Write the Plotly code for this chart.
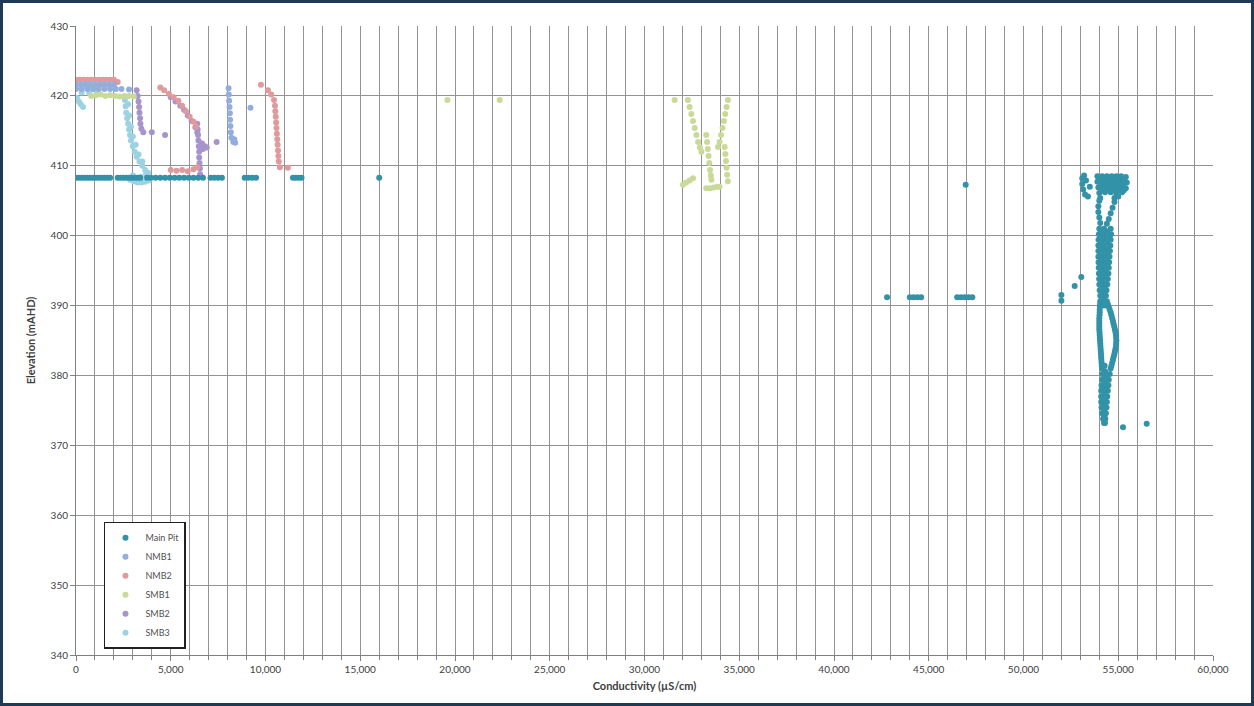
import plotly.graph_objects as go

# ---- Conductivity (uS/cm) vs elevation (mAHD) for each monitoring location ----

main_pit_cond = [
    # near-surface readings at ~408 mAHD
    0, 150, 300, 450, 600, 750, 900, 1050, 1200, 1350, 1500, 1650, 1800,
    2200, 2350, 2500, 2650, 2800, 2950, 3100, 3250, 3400,
    3750, 3950, 4200, 4450, 4700, 4950, 5200, 5450, 5700, 5950, 6200, 6450, 6700,
    7100, 7300, 7500, 7700, 8900, 9100, 9300, 9500, 11450, 11600, 11750, 11900, 16000,
    # profile head
    53100, 53100, 53150, 53250, 53400, 53300, 53500, 53200,
    53900, 54150, 54400, 54650, 54900, 55150, 55400,
    53900, 54200, 54500, 54800, 55100, 55450,
    53950, 54250, 54550, 54850, 55150, 55400,
    54000, 54300, 54600, 54900, 55200,
    54050, 54800, 55000,
    54050, 54300, 54550, 54800, 55050, 55300,
    54100, 54350, 54650, 54950, 55250,
    54150, 54450, 54700, 55000, 55300,
    # loop
    54000, 53950, 53950, 54000, 54050,
    54800, 54700, 54600, 54500, 54400,
    # main column
    54000, 53980, 53960, 53950, 53950, 53950, 53960, 53970, 53980, 53990, 54000, 54020, 54050,
    54250, 54230, 54220, 54200, 54200, 54200, 54210, 54220, 54230, 54220, 54210, 54200, 54200,
    54600, 54620, 54600, 54580, 54560, 54540, 54520, 54500, 54480, 54450, 54420, 54380, 54350,
    54100, 54090, 54080, 54070, 54070, 54080, 54090, 54100, 54110, 54110, 54120, 54130,
    54420, 54430, 54410, 54390, 54380, 54370, 54360, 54350, 54340, 54320, 54300, 54280,
    # bulge
    54050, 54030, 54020, 54000, 54000, 54000, 54020, 54040, 54060, 54080, 54100, 54120, 54150,
    54400, 54500, 54600, 54680, 54750, 54820, 54880, 54900, 54880, 54820, 54750, 54680, 54600,
    54040, 54020, 54010, 54000, 54000, 54010, 54030, 54050, 54070, 54090, 54110, 54130,
    54450, 54550, 54640, 54720, 54790, 54850, 54890, 54890, 54850, 54790, 54720, 54640,
    54220, 54250, 54280, 54300,
    # lower column
    54150, 54150, 54120, 54100, 54100, 54100, 54120, 54150, 54200, 54250,
    54550, 54500, 54480, 54450, 54420, 54400, 54380, 54350, 54320, 54300,
    54350, 54320, 54300, 54280, 54260, 54250, 54250, 54250, 54260,
    # scattered deep / outlying readings
    55250, 56500, 52000, 52000, 52700, 53050, 46950,
    42800, 44000, 44200, 44400, 44600, 46500, 46700, 46900, 47100, 47300,
]
main_pit_elev = [
    408.3, 408.3, 408.3, 408.3, 408.3, 408.3, 408.3, 408.3, 408.3, 408.3, 408.3, 408.3, 408.3,
    408.3, 408.3, 408.3, 408.3, 408.3, 408.3, 408.3, 408.3, 408.3,
    408.3, 408.3, 408.3, 408.3, 408.3, 408.3, 408.3, 408.3, 408.3, 408.3, 408.3, 408.3, 408.3,
    408.3, 408.3, 408.3, 408.3, 408.3, 408.3, 408.3, 408.3, 408.3, 408.3, 408.3, 408.3, 408.3,
    408.2, 407.4, 406.6, 405.9, 405.6, 407.9, 407.0, 408.6,
    408.5, 408.5, 408.5, 408.5, 408.5, 408.5, 408.4,
    407.7, 407.7, 407.7, 407.7, 407.7, 407.6,
    406.9, 406.9, 406.9, 406.9, 406.9, 406.8,
    406.1, 406.2, 406.2, 406.0, 406.2,
    405.4, 405.4, 405.6,
    408.1, 408.1, 408.1, 408.1, 408.1, 408.1,
    407.3, 407.3, 407.3, 407.3, 407.3,
    406.5, 406.5, 406.5, 406.5, 406.5,
    405.0, 404.2, 403.4, 402.6, 401.8,
    404.8, 404.0, 403.2, 402.4, 401.7,
    401.0, 400.2, 399.4, 398.6, 397.8, 397.0, 396.2, 395.4, 394.6, 393.8, 393.0, 392.2, 391.4,
    401.0, 400.2, 399.4, 398.6, 397.8, 397.0, 396.2, 395.4, 394.6, 393.8, 393.0, 392.2, 391.4,
    401.0, 400.2, 399.4, 398.6, 397.8, 397.0, 396.2, 395.4, 394.6, 393.8, 393.0, 392.2, 391.4,
    400.6, 399.8, 399.0, 398.2, 397.4, 396.6, 395.8, 395.0, 394.2, 393.4, 392.6, 391.8,
    400.6, 399.8, 399.0, 398.2, 397.4, 396.6, 395.8, 395.0, 394.2, 393.4, 392.6, 391.8,
    390.6, 389.8, 389.0, 388.2, 387.4, 386.6, 385.8, 385.0, 384.2, 383.4, 382.6, 381.8, 381.0,
    390.6, 389.8, 389.0, 388.2, 387.4, 386.6, 385.8, 385.0, 384.2, 383.4, 382.6, 381.8, 381.0,
    390.2, 389.4, 388.6, 387.8, 387.0, 386.2, 385.4, 384.6, 383.8, 383.0, 382.2, 381.4,
    390.2, 389.4, 388.6, 387.8, 387.0, 386.2, 385.4, 384.6, 383.8, 383.0, 382.2, 381.4,
    390.8, 390.0, 381.4, 380.6,
    380.2, 379.4, 378.6, 377.8, 377.0, 376.2, 375.4, 374.6, 373.8, 373.2,
    380.2, 379.4, 378.6, 377.8, 377.0, 376.2, 375.4, 374.6, 373.8, 373.2,
    379.8, 379.0, 378.2, 377.4, 376.6, 375.8, 375.0, 374.2, 373.5,
    372.6, 373.1, 391.5, 390.7, 392.8, 394.1, 407.3,
    391.2, 391.2, 391.2, 391.2, 391.2, 391.2, 391.2, 391.2, 391.2, 391.2,
]

nmb1_cond = [
    0, 250, 500, 750, 1000, 1250, 1500, 1750, 2000,
    0, 300, 600, 900, 1200, 1500, 1800, 2100, 2400, 2800,
    8050, 8060, 8080, 8100, 8120, 8130, 8150, 8170, 8200, 8300, 8400, 8350, 9210,
]
nmb1_elev = [
    421.6, 421.6, 421.6, 421.6, 421.6, 421.6, 421.6, 421.6, 421.6,
    421.0, 421.0, 421.0, 421.0, 421.0, 421.0, 421.0, 421.0, 421.0, 420.9,
    421.1, 420.2, 419.3, 418.4, 417.5, 416.6, 415.7, 414.8, 414.0, 413.4, 413.3, 413.8, 418.3,
]

nmb2_cond = [
    0, 200, 400, 600, 800, 1000, 1200, 1400, 1600, 1800, 2000, 2200,
    4450, 4650, 4900, 5150, 5400, 5600, 5800, 6000, 6200, 6350,
    5000, 5300, 5600, 5900, 6200, 6400,
    9760, 10130, 10300, 10450, 10500, 10520, 10540, 10560, 10580, 10600,
    10620, 10640, 10660, 10680, 10700, 10760, 11180,
]
nmb2_elev = [
    422.3, 422.3, 422.3, 422.3, 422.3, 422.3, 422.3, 422.3, 422.3, 422.3, 422.3, 422.0,
    421.2, 420.8, 420.3, 419.8, 419.3, 418.6, 417.8, 417.0, 416.3, 415.6,
    409.4, 409.3, 409.4, 409.2, 409.5, 409.8,
    421.6, 420.8, 420.2, 419.4, 418.6, 417.8, 417.0, 416.2, 415.4, 414.6,
    413.8, 413.0, 412.2, 411.4, 410.6, 409.8, 409.7,
]

smb1_cond = [
    800, 1050, 1300, 1550, 1800, 2050, 2300, 2550, 2800, 3050,
    19600, 22360, 31590,
    32290, 32380, 32470, 32560, 32650, 32740, 32830, 32920, 33000,
    33260, 33300, 33340, 33380, 33420, 33460, 33500, 33530,
    34400, 34330, 34260, 34190, 34120, 34040, 33960, 33880,
    34230, 34270, 34300, 34330, 34360, 34400,
    32030, 32200, 32380, 32560,
    33260, 33450, 33650, 33850, 33960,
]
smb1_elev = [
    420.0, 420.1, 420.2, 420.0, 420.1, 420.0, 419.9, 420.0, 420.0, 419.9,
    419.4, 419.4, 419.4,
    419.4, 418.4, 417.4, 416.4, 415.4, 414.4, 413.4, 412.6, 412.0,
    414.4, 413.4, 412.4, 411.4, 410.4, 409.4, 408.6, 408.0,
    419.4, 418.4, 417.4, 416.4, 415.4, 414.4, 413.4, 412.7,
    412.7, 411.7, 410.7, 409.7, 408.7, 407.8,
    407.3, 407.6, 407.9, 408.2,
    406.8, 406.8, 406.9, 407.0, 407.0,
]

smb2_cond = [
    3200, 3250, 3300, 3330, 3350, 3380, 3400, 3450, 3550,
    5000, 5250, 5500, 5700, 5900, 6100, 6300, 6400,
    6400, 6420, 6440, 6460, 6480, 6500, 6500, 6520, 6540, 6550,
    6650, 6800, 6900, 6700,
    4000, 4700, 7420,
]
smb2_elev = [
    420.8, 420.0, 419.2, 418.4, 417.6, 416.8, 416.0, 415.3, 414.8,
    419.8, 419.2, 418.6, 418.0, 417.2, 416.4, 415.5, 414.8,
    416.0, 415.2, 414.4, 413.6, 412.8, 412.0, 411.2, 410.4, 409.6, 408.8,
    413.2, 412.8, 412.6, 412.4,
    414.8, 414.4, 413.4,
]

smb3_cond = [
    50, 150, 250, 370, 300, 700, 1100,
    2580, 2620, 2650, 2700, 2750, 2800, 2850, 2900, 3000, 3100, 3200, 3350, 3500, 3650, 3800,
    2750, 2800, 2900, 3000, 3150, 3300, 3500,
    2850, 3050, 3250, 3450, 3650, 3850, 3000, 3400, 3700,
]
smb3_elev = [
    419.7, 419.2, 418.8, 418.4, 420.5, 420.4, 420.5,
    419.4, 418.5, 417.6, 416.8, 416.0, 415.2, 414.4, 413.6, 412.8, 412.0, 411.3, 410.6, 410.0, 409.4, 409.0,
    418.8, 417.2, 415.6, 414.2, 413.0, 411.6, 410.6,
    408.0, 407.8, 407.6, 407.6, 407.7, 407.9, 408.6, 408.4, 408.8,
]

series_names = ["Main Pit", "NMB1", "NMB2", "SMB1", "SMB2", "SMB3"]
series_x = [main_pit_cond, nmb1_cond, nmb2_cond, smb1_cond, smb2_cond, smb3_cond]
series_y = [main_pit_elev, nmb1_elev, nmb2_elev, smb1_elev, smb2_elev, smb3_elev]
series_colors = ["#3192A8", "#93AEDC", "#E09A9C", "#C9DA98", "#A894CC", "#9CD3E2"]

x_ticks = list(range(0, 60001, 5000))
x_tick_text = [f"{v:,}" for v in x_ticks]
y_ticks = list(range(340, 431, 10))

fig = go.Figure()

# later series sit underneath earlier ones, so draw them in reverse order
for name, xs, ys, col in reversed(list(zip(series_names, series_x, series_y, series_colors))):
    fig.add_trace(go.Scatter(
        x=xs, y=ys, mode="markers", name=name,
        marker=dict(size=6, color=col, line=dict(width=0)),
    ))

grid_col = "#939393"
font_family = "Lato, Liberation Sans, sans-serif"
tick_font = dict(family=font_family, size=10, color="#404040")
title_font = dict(family=font_family, size=11, color="#404040")

fig.update_layout(
    width=1254, height=706,
    paper_bgcolor="white", plot_bgcolor="white",
    margin=dict(l=76, r=41, t=26, b=51),
    showlegend=True,
    legend=dict(
        traceorder="reversed",
        x=0.0246, y=0.01, xanchor="left", yanchor="bottom",
        bgcolor="white", bordercolor="#202020", borderwidth=1.5,
        font=dict(family=font_family, size=9, color="#505050"),
        itemwidth=30,
    ),
    xaxis=dict(
        range=[0, 60000], tickvals=x_ticks, ticktext=x_tick_text,
        showgrid=True, gridcolor=grid_col, gridwidth=1,
        minor=dict(dtick=1000, showgrid=True, gridcolor=grid_col, gridwidth=1,
                   ticks="outside", ticklen=4, tickcolor="#808080"),
        ticks="outside", ticklen=5, tickcolor="#808080",
        showline=True, linecolor="#808080", linewidth=1,
        zeroline=False, tickfont=tick_font,
        title=dict(text="<b>Conductivity (µS/cm)</b>", standoff=8, font=title_font),
    ),
    yaxis=dict(
        range=[340, 430], tickvals=y_ticks,
        showgrid=True, gridcolor=grid_col, gridwidth=1,
        ticks="outside", ticklen=5, tickcolor="#808080",
        showline=True, linecolor="#808080", linewidth=1,
        zeroline=False, tickfont=tick_font,
        title=dict(text="<b>Elevation (mAHD)</b>", standoff=12, font=title_font),
    ),
)

# outer frame around the whole chart
pw, ph = 1254 - 76 - 41, 706 - 26 - 51
fig.add_shape(
    type="rect", xref="paper", yref="paper",
    x0=(-76 + 1.5) / pw, x1=1 + (41 - 1.5) / pw,
    y0=(-51 + 1.5) / ph, y1=1 + (26 - 1.5) / ph,
    line=dict(color="#1F3A56", width=3), fillcolor="rgba(0,0,0,0)", layer="above",
)

fig.write_html("out.html")
